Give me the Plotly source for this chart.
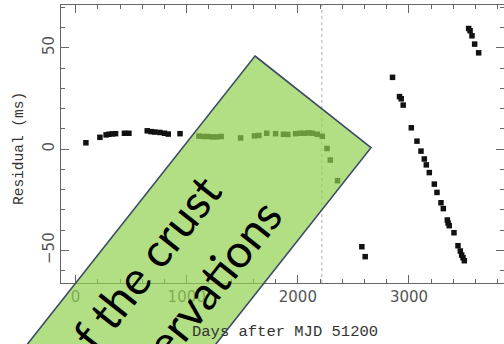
import plotly.graph_objects as go

# Timing residuals (ms) against days after MJD 51200
days = [93, 219, 275, 300, 330, 360, 440, 480, 645, 680, 714, 759, 800, 834, 940,
        1110, 1150, 1190, 1230, 1270, 1310, 1485, 1610, 1650, 1720, 1800, 1870, 1910,
        1980, 2020, 2060, 2100, 2130, 2175, 2220, 2262, 2292, 2357,
        2576, 2606, 2852, 2915, 2930, 2948, 3021, 3072, 3108, 3138, 3156, 3183,
        3228, 3252, 3288, 3309, 3345, 3352, 3362, 3405, 3441, 3462, 3474, 3486, 3498,
        3537, 3550, 3567, 3591, 3627]
residual = [3.1, 5.8, 7.0, 7.3, 7.5, 7.6, 7.8, 7.8, 9.0, 8.6, 8.4, 8.2, 7.8, 7.4, 7.6,
            6.4, 6.2, 6.2, 6.0, 6.0, 6.2, 5.5, 6.5, 6.7, 7.8, 7.6, 7.3, 7.2,
            7.6, 7.8, 7.8, 8.0, 7.8, 7.3, 6.3, 0.3, -5.4, -15.6,
            -48.2, -53.1, 35.4, 25.9, 24.8, 21.7, 10.5, 3.9, -1.0, -4.9, -7.8, -11.6,
            -17.3, -21.4, -26.5, -29.4, -35.0, -36.5, -37.8, -41.3, -47.7, -50.3, -52.3, -53.6, -55.1,
            59.5, 58.4, 55.9, 51.8, 47.5]

glitch_day = 2216
x_title = "Days after MJD 51200"
y_title = "Residual (ms)"
callout_lines = ["of the crust", "observations"]

W, H = 504, 344
ML, MR, MT, MB = 61, 0, 5, 61


def to_paper(px, py):
    return (px - ML) / (W - ML - MR), (H - MB - py) / (H - MT - MB)


fig = go.Figure()
fig.add_trace(go.Scatter(
    x=days, y=residual, mode="markers",
    marker=dict(symbol="square", size=5.5, color="#111111", line=dict(width=0)),
    hoverinfo="skip", showlegend=False,
))

axis_common = dict(
    showline=True, linecolor="#666666", linewidth=1, mirror="ticks",
    ticks="inside", ticklen=8, tickwidth=1, tickcolor="#666666",
    showgrid=False, zeroline=False,
    tickfont=dict(family="DejaVu Sans", size=15, color="#555555"),
)
fig.update_xaxes(range=[-131, 3855], tick0=0, dtick=1000,
                 minor=dict(dtick=200, ticks="inside", ticklen=4, tickcolor="#666666"),
                 **axis_common)
fig.update_yaxes(range=[-66.1, 71.1], tick0=0, dtick=50, tickangle=-90,
                 tickvals=[-50, 0, 50], ticktext=["\u221250", "0", "50"],
                 minor=dict(dtick=10, ticks="inside", ticklen=4, tickcolor="#666666"),
                 **axis_common)

# dotted marker of the glitch epoch
fig.add_shape(type="line", xref="x", yref="paper", x0=glitch_day, x1=glitch_day,
              y0=0, y1=1, line=dict(color="#b0b0b0", width=1, dash="dot"), layer="below")

# translucent rotated callout box
corners = [(255, 56), (371, 147.7), (123, 461.7), (7, 370)]
pts = [to_paper(*c) for c in corners]
path = "M " + " L ".join(f"{x:.5f},{y:.5f}" for x, y in pts) + " Z"
fig.add_shape(type="path", xref="paper", yref="paper", path=path,
              fillcolor="rgba(146,208,80,0.7)", line=dict(color="#3d4b66", width=1.6),
              layer="above")

for (px, py), txt in zip([(138, 272), (191, 308)], callout_lines):
    ax, ay = to_paper(px, py)
    fig.add_annotation(x=ax, y=ay, xref="paper", yref="paper", text=txt,
                       showarrow=False, textangle=-51.7, xanchor="center", yanchor="middle",
                       font=dict(family="Lato", size=46, color="#000000"))

tx, ty = to_paper(285, 331.5)
fig.add_annotation(x=tx, y=ty, xref="paper", yref="paper", text=x_title, showarrow=False,
                   xanchor="center", yanchor="middle",
                   font=dict(family="Liberation Mono", size=15.5, color="#333333"))
yx, yy = to_paper(19, 149)
fig.add_annotation(x=yx, y=yy, xref="paper", yref="paper", text=y_title, showarrow=False,
                   textangle=-90, xanchor="center", yanchor="middle",
                   font=dict(family="Liberation Mono", size=14.5, color="#333333"))

fig.update_layout(width=W, height=H, margin=dict(l=ML, r=MR, t=MT, b=MB, pad=0),
                  paper_bgcolor="white", plot_bgcolor="white", showlegend=False)

fig.write_html("out.html")
